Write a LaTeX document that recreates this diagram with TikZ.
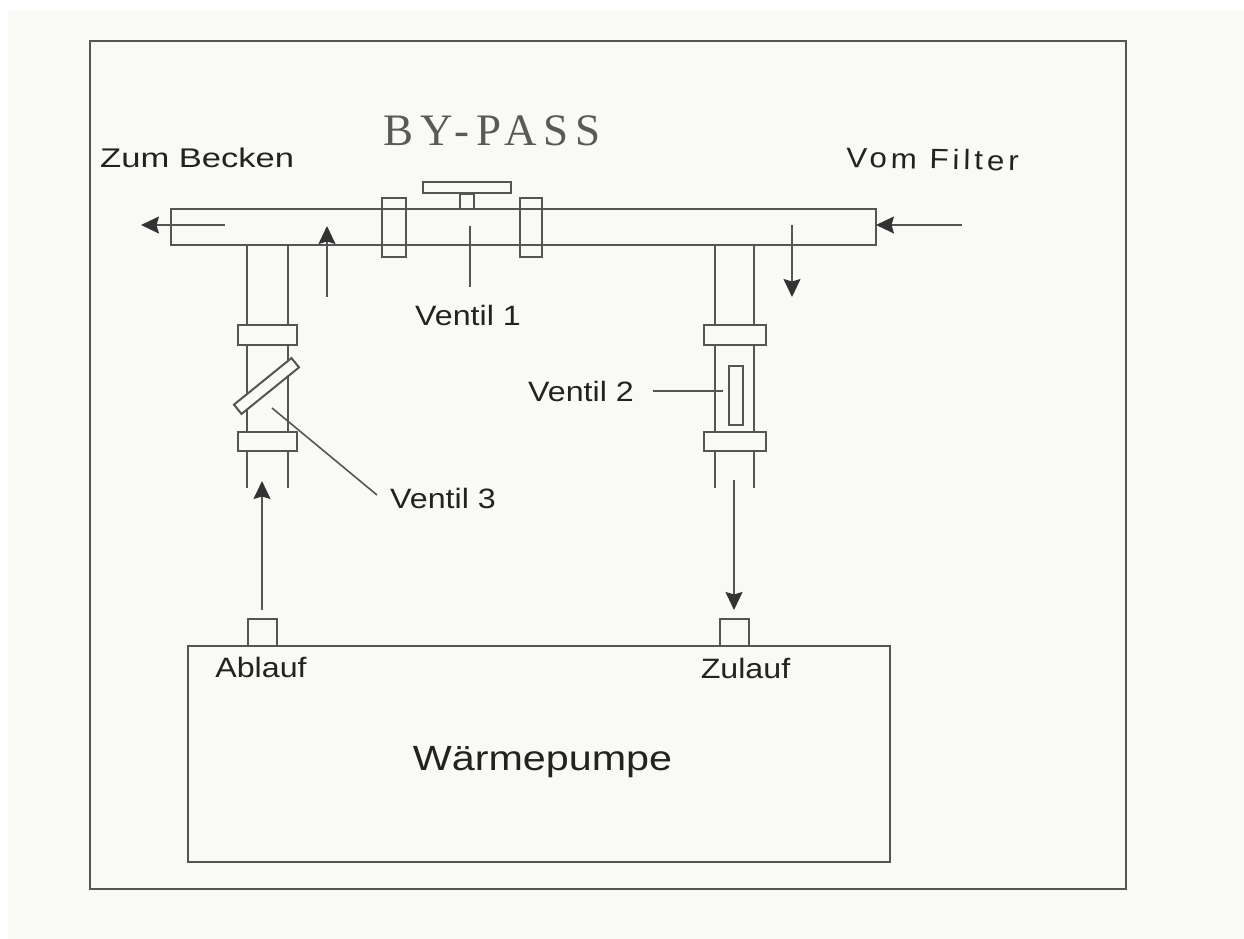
\documentclass[tikz,border=0pt]{standalone}
\usepackage{fontspec}
\setmainfont{Liberation Sans}
\newfontfamily\titlefont[LetterSpace=15]{Liberation Serif}
\newfontfamily\labfont[FakeStretch=1.15]{Liberation Sans}
\newfontfamily\zumfont[FakeStretch=1.28]{Liberation Sans}
\newfontfamily\vomfont[FakeStretch=1.12,LetterSpace=14]{Liberation Sans}
\newfontfamily\pumpfont[FakeStretch=1.18]{Liberation Sans}
\usetikzlibrary{arrows.meta}
\definecolor{paper}{HTML}{F9FAF6}
\definecolor{ink}{HTML}{555555}
\definecolor{txt}{HTML}{222222}
\tikzset{
  line/.style={draw=ink,line width=2pt},
  part/.style={line,fill=paper,inner sep=0pt,outer sep=0pt,rectangle},
  flow/.style={draw=ink,line width=1.6pt,-{Stealth[inset=2.5pt,length=18pt,width=17pt,color=black!80]}},
  leader/.style={draw=ink,line width=1.6pt},
  lbl/.style={text=txt,inner sep=0pt,anchor=base,font=\labfont\fontsize{28}{32}\selectfont}
}
\begin{document}
\begin{tikzpicture}[x=1pt,y=-1pt]
\useasboundingbox (0,0) rectangle (1244,939);
\fill[white] (0,0) rectangle (1244,939);
\fill[paper] (8,10) rectangle (1244,939);
\node[part,fill=none,minimum width=1036pt,minimum height=848pt,anchor=north west] (frame) at (90,41) {};
% main pipe
\node[part,minimum width=705pt,minimum height=36pt,anchor=north west] (pipe) at (171,208.5) {};
% left leg
\coordinate (ltl) at (247,244.5); \coordinate (ltr) at (288,244.5);
\coordinate (lbl) at (247,488); \coordinate (lbr) at (288,488);
\draw[line] (ltl) -- (lbl); \draw[line] (ltr) -- (lbr);
% right leg
\coordinate (rtl) at (714.5,244.5); \coordinate (rtr) at (754,244.5);
\coordinate (rbl) at (714.5,488); \coordinate (rbr) at (754,488);
\draw[line] (rtl) -- (rbl); \draw[line] (rtr) -- (rbr);
% valve 1
\node[part,fill=none,minimum width=24pt,minimum height=59pt] (v1a) at (394,227.5) {};
\node[part,fill=none,minimum width=22pt,minimum height=59pt] (v1b) at (531,227.5) {};
\node[part,minimum width=88pt,minimum height=11pt] (v1h) at (467,187.5) {};
\node[part,fill=none,minimum width=14pt,minimum height=15pt] (v1s) at (467,201) {};
% left flanges and valve 3
\node[part,minimum width=59pt,minimum height=20pt] (lf1) at (267.5,334.5) {};
\node[part,minimum width=59pt,minimum height=19pt] (lf2) at (267.5,441) {};
\node[part,minimum width=74pt,minimum height=12pt,rotate=39] (v3) at (266.5,386) {};
% right flanges and valve 2
\node[part,minimum width=62pt,minimum height=20pt] (rf1) at (734.5,335) {};
\node[part,minimum width=62pt,minimum height=19pt] (rf2) at (734.5,441.5) {};
\node[part,minimum width=14pt,minimum height=59pt] (v2) at (736,395.5) {};
% pump
\node[part,minimum width=702pt,minimum height=216pt,anchor=north west] (pump) at (188,646) {};
\node[part,minimum width=29pt,minimum height=27pt,anchor=south] (ab) at (262.5,646) {};
\node[part,minimum width=29pt,minimum height=27pt,anchor=south] (zu) at (734.5,646) {};
% flow arrows
\coordinate (f1s) at (225,225); \coordinate (f1e) at (141,225);
\draw[flow] (f1s) -- (f1e);
\coordinate (f2s) at (327,297); \coordinate (f2e) at (327,226);
\draw[flow] (f2s) -- (f2e);
\coordinate (f3s) at (962,225); \coordinate (f3e) at (876,225);
\draw[flow] (f3s) -- (f3e);
\coordinate (f4s) at (792,225); \coordinate (f4e) at (792,297);
\draw[flow] (f4s) -- (f4e);
\coordinate (f5s) at (262,610); \coordinate (f5e) at (262,481);
\draw[flow] (f5s) -- (f5e);
\coordinate (f6s) at (734,480); \coordinate (f6e) at (734,610);
\draw[flow] (f6s) -- (f6e);
% labels
\node[text=black!65,inner sep=0pt,anchor=base,font=\titlefont\fontsize{45}{50}\selectfont] (bp) at (492,145) {BY-PASS};
\node[lbl,anchor=base west,font=\zumfont\fontsize{27}{32}\selectfont] (zb) at (100,167) {Zum Becken};
\node[lbl,anchor=base west,rotate=-1.3,font=\vomfont\fontsize{28}{32}\selectfont] (vf) at (846,167) {Vom Filter};
\node[lbl] (l1) at (468,325) {Ventil 1};
\node[lbl] (l2) at (581,401) {Ventil 2};
\node[lbl] (l3) at (443,508) {Ventil 3};
\node[lbl] (al) at (261,677) {Ablauf};
\node[lbl] (zl) at (745.5,678) {Zulauf};
\node[lbl,font=\pumpfont\fontsize{35}{40}\selectfont] (wp) at (542.5,770) {Wärmepumpe};
% leaders
\coordinate (a1) at (470,226); \coordinate (b1) at (470,287);
\draw[leader] (a1) -- (b1);
\coordinate (a2) at (653,391); \coordinate (b2) at (723,391);
\draw[leader] (a2) -- (b2);
\coordinate (a3) at (272,408); \coordinate (b3) at (377,495);
\draw[leader] (a3) -- (b3);
\end{tikzpicture}
\end{document}
